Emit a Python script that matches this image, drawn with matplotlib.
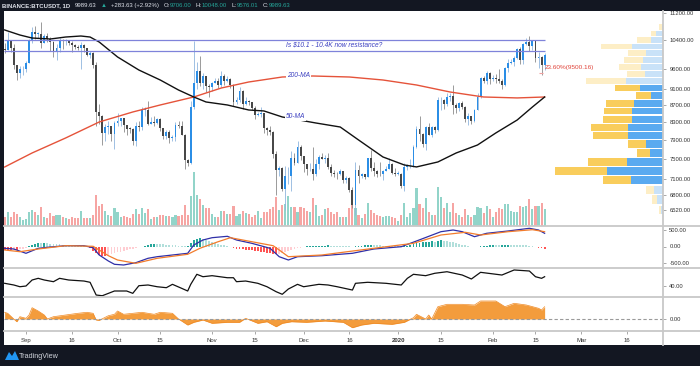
import matplotlib
matplotlib.use('Agg')
import matplotlib.pyplot as plt
from matplotlib.lines import Line2D
from matplotlib.patches import Rectangle, Polygon
from matplotlib.ticker import FixedLocator, FixedFormatter, NullLocator
from matplotlib.offsetbox import TextArea, HPacker, AnchoredOffsetbox

plt.rcParams['font.family'] = ['Liberation Sans', 'DejaVu Sans']

# ---------------- data (day index 0 = 2019-08-25) ----------------
first_open = 10140
closes = [10130,10360,10185,9720,9490,9590,9600,9770,10390,10620,
          10580,10580,10320,10500,10440,10330,10100,10160,10410,10360,
          10360,10310,10260,10190,10160,10270,10170,9980,10030,9700,
          8530,8430,8060,8190,8200,8040,8290,8330,8390,8230,
          8150,8140,7870,8210,8180,8590,8590,8260,8310,8280,
          8360,8160,7990,8070,7950,7960,8230,8220,8020,7470,
          7420,8660,9250,9550,9230,9430,9170,9150,9250,9300,
          9200,9410,9300,9350,9190,8760,8810,9040,8720,8800,
          8760,8630,8460,8490,8500,8170,8120,8080,7610,7270,
          7320,6910,7150,7160,7520,7420,7760,7560,7400,7290,
          7300,7200,7390,7530,7500,7520,7340,7220,7200,7190,
          7250,7070,7110,6880,6610,7280,7150,7190,7140,7510,
          7320,7250,7200,7190,7250,7300,7390,7220,7200,7200,
          6960,7340,7350,7350,7760,8150,8040,7820,8190,8020,
          8180,8110,8810,8820,8720,8900,8910,8700,8630,8740,
          8660,8380,8430,8330,8590,8900,9380,9290,9500,9350,
          9380,9340,9290,9180,9620,9760,9800,9900,10150,9850,
          10280,10350,10240,10360,9900,9930,9710,9990]
highs = [10320,10625,10380,10285,9720,9690,9680,9820,10440,10780,
         10800,10630,10920,10560,10600,10490,10380,10290,10450,10440,
         10420,10390,10360,10280,10270,10350,10280,10180,10080,10060,
         9800,8730,8460,8260,8320,8220,8320,8500,8400,8400,
         8240,8180,8170,8300,8330,8660,8650,8790,8420,8450,
         8400,8400,8170,8120,8110,8000,8300,8330,8330,8040,
         7500,8800,10370,9800,9950,9500,9430,9220,9270,9380,
         9370,9550,9470,9420,9370,9220,8880,9130,9070,8880,
         8820,8780,8680,8530,8640,8520,8180,8200,8100,7670,
         7350,7330,7350,7330,7660,7620,7870,7800,7570,7400,
         7420,7750,7490,7590,7620,7580,7620,7390,7270,7240,
         7300,7260,7160,7130,6940,7440,7370,7220,7190,7520,
         7690,7440,7270,7430,7270,7360,7520,7420,7320,7250,
         7210,7410,7400,7500,7800,8210,8450,8050,8200,8280,
         8200,8200,8880,8900,8850,9000,9000,9190,8740,8770,
         8790,8670,8510,8430,8600,8980,9400,9430,9550,9520,
         9440,9470,9600,9350,9650,9860,9880,9950,10160,10190,
         10320,10450,10500,10390,10380,10050,9960,10048]
lows = [10030,10130,10050,9600,9320,9360,9440,9520,9760,10300,
        10430,10450,10160,10300,10350,10100,9930,9850,10050,10150,
        10270,10270,10070,10150,10120,9600,10060,9960,9900,9630,
        8220,8250,7800,7870,8030,7880,7710,8220,8200,8080,
        8000,8050,7800,7770,8100,8120,8440,8240,8260,8200,
        8250,8100,7930,7920,7830,7870,7880,8160,8020,7300,
        7350,7400,8600,9100,9170,9100,9020,8900,9050,9230,
        9120,9150,9200,9260,9120,8680,8730,8780,8600,8700,
        8710,8580,8380,8440,8410,8050,8000,8020,7520,6790,
        7150,6870,6520,7010,6860,7370,7410,7480,7230,7170,
        7260,7080,7160,7300,7490,7420,7290,7160,7130,7090,
        7170,7030,7020,6850,6560,6430,7030,7110,7100,7130,
        7260,7160,7130,7160,7070,7250,7290,7200,7150,7170,
        6920,6870,7270,7310,7340,7730,7870,7750,7680,8000,
        7970,8050,8100,8580,8600,8670,8800,8480,8520,8560,
        8610,8300,8240,8260,8300,8570,8870,9250,9220,9220,
        9300,9230,9230,9100,9160,9530,9730,9670,9880,9740,
        9730,10250,10080,10120,9800,9630,9450,9576]
volumes = [8.7,14,9.3,14,12,8.7,6.3,6.7,14.3,15.7,
           14.3,11.3,19.3,9.3,8.3,12.7,10,11,11,9.3,
           7.7,6.7,9.3,7.7,8.3,15,8.3,7.7,8.3,10.7,
           31,20,22.3,14.7,11,10,18.3,14.3,8.7,10,
           8.7,7.7,11.7,17.3,11.7,18,12.7,17,7.3,9,
           9.3,10.7,11,10.3,10,8.7,11,10.3,11,21,
           11,30,53.7,31,26.7,21,18.3,18.3,11.7,9.3,
           9.3,15,15,12.3,12.3,20.3,10.3,11.7,15,13.3,
           12.3,8.7,11,15,7.7,14.3,14.3,16.7,19.3,
           29.3,16,21,21.7,30.3,19.3,19.3,13.7,19.3,18.3,
           15.3,14.3,27.7,21,10.3,11,16.7,17.7,13.7,11.7,
           14.3,9.3,9.3,9.3,17.7,21.7,18.3,11,7.7,11.7,
           22.7,16,12.7,11,10.3,9.3,10.3,10.3,9.3,7.7,
           5,11,22.7,9.3,12.7,17.7,37.7,21.7,17.7,27.7,
           14.3,11,11,39.3,29.3,17.7,23.3,14.3,23.3,12.7,
           11,9.3,16.7,11,9.3,11,18.7,17.7,13.3,20.3,
           16.7,9.3,13.7,17.7,17,21.7,21.7,15,14.3,14.3,
           20.3,19.3,20.3,26.7,16.7,19.7,20.3,22.7,17]

ma50_days = [0,5,9,15,20,25,28,31,37,44,51,57,62,66,73,80,85,91,102,110,116,124,131,135,142,148,155,161,168,173,177]
ma50_vals = [10690,10543,10456,10428,10485,10514,10485,10342,9926,9576,9317,9064,8892,8771,8699,8580,8557,8417,8279,8188,7902,7541,7377,7337,7438,7624,7793,8055,8347,8651,8892]
ma200_days = [0,9,20,31,42,51,62,71,80,91,101,113,124,135,146,157,168,177]
ma200_vals = [7336,7624,7945,8302,8533,8699,8892,9114,9266,9394,9420,9394,9317,9190,9015,8892,8869,8892]

macd_days = [0,3,7,11,15,20,26,29,31,34,36,39,43,47,50,55,60,62,65,68,73,76,81,87,90,93,96,104,114,121,130,135,143,147,150,154,158,165,172,175,177]
macd_vals = [-54,-75,-204,-54,-15,24,24,-36,-255,-435,-534,-555,-486,-354,-306,-255,-204,45,195,264,306,195,96,-54,-306,-405,-306,-276,-204,-75,-6,165,444,495,444,294,396,465,546,495,396]
signal_days = [0,5,11,20,29,34,37,43,50,60,64,70,74,81,88,90,93,104,121,134,143,151,156,165,173,177]
signal_vals = [-105,-156,-75,24,6,-276,-405,-504,-354,-234,-54,144,264,144,24,-105,-306,-255,-54,96,345,426,345,444,504,444]
macd_hist = [-90,-99,-105,-99,-102,-84,-60,-36,15,60,
             90,105,99,114,105,90,84,75,69,60,
             48,36,30,21,15,12,9,-9,-45,-120,
             -180,-240,-270,-285,-255,-225,-195,-165,-150,-129,
             -105,-84,-66,-45,-24,-6,24,54,75,84,
             78,72,66,60,51,42,36,30,18,6,
             30,120,195,240,249,240,210,180,150,120,
             90,60,36,15,-15,-45,-60,-69,-84,-90,
             -99,-114,-129,-144,-159,-174,-189,-204,-210,-225,
             -210,-195,-165,-135,-105,-75,-54,-30,-12,9,
             15,24,30,30,30,30,33,30,24,18,
             12,9,6,3,-6,9,24,30,36,45,
             48,45,39,33,27,24,24,21,15,12,
             6,18,30,45,66,96,120,129,144,150,
             156,150,174,189,180,165,150,126,105,84,
             60,39,18,-9,-18,-12,6,18,30,45,
             51,48,42,48,54,57,54,48,42,39,
             36,33,24,9,-18,-36,-54,-60]

rsi_days = [0,3,5,7,9,11,13,16,18,21,26,28,30,32,36,40,42,44,47,50,53,55,58,60,61,63,65,68,73,75,76,79,83,86,89,91,93,96,98,103,106,109,114,115,119,125,130,132,134,138,141,145,150,153,156,163,167,172,174,176,177]
rsi_vals = [44.5,41.7,38.8,40,50,52.8,50,47.2,52.8,50,48.3,46.2,25,23.8,31.7,31.7,27.8,40.5,41.7,38.8,37.2,42.8,36.2,31.7,42.8,59.5,55.5,57.2,53.8,53.8,47.2,48.3,44.5,38.8,30.5,26.2,35,42.8,38.8,42.8,41.7,38.8,33.3,44.5,46.2,44.5,41.7,52.8,59.5,57.2,61.2,63.8,58.3,51.7,62.8,58.3,66.7,65,55.5,52.8,55.5]

osc_days = [0,1,3,4,5,7,8,9,11,13,14,16,20,24,27,29,30,31,34,36,37,39,42,45,49,51,55,57,60,62,65,68,73,77,79,83,86,89,91,94,99,105,111,114,117,121,127,131,134,135,138,139,140,142,145,150,154,156,161,164,167,171,175,176,177]
osc_vals = [0.067,0.057,0.0,-0.027,0.023,0.007,0.04,0.113,0.08,0.04,0.0,0.023,0.04,0.057,0.067,0.057,-0.01,-0.013,0.033,0.047,0.08,0.047,0.057,0.067,0.047,0.067,0.057,0.0,-0.06,-0.033,-0.01,-0.043,-0.033,-0.033,0.007,-0.043,-0.027,-0.077,-0.043,-0.027,-0.033,-0.02,-0.033,-0.087,-0.06,-0.043,-0.053,-0.033,0.013,0.047,0.0,0.04,0.0,0.123,0.147,0.147,0.14,0.18,0.18,0.123,0.157,0.14,0.107,0.09,0.123]

# volume profile rows (price bottoms, up/down volume)
vp_bottoms = [6440,6625,6810,6995,7180,7365,7550,7735,7920,8105,8290,8475,8660,8845,9030,9215,9400,9585,9770,9955,10140,10325,10510,10695]
vp_up = [2,6,9,32,56,36,13,17,35,35,31,31,29,12,23,37,18,22,20,17,31,12,7,1]
vp_down = [2,5,8,28,52,39,13,18,35,37,29,28,28,15,25,40,18,22,19,18,31,14,5,3]
vp_in_value_area = [False,False,False,True,True,True,True,True,True,True,True,True,True,True,True,False,False,False,False,False,False,False,False,False]
vp_step = 185

price_ticks = [11200,10400,9600,9100,8700,8300,7900,7500,7100,6800,6520]
resistance_levels = [10100, 10400]
fib_level = 9500.16
time_tick_days = [7,22,37,51,68,82,98,113,129,143,160,174,189,204]
time_tick_labels = ['Sep','16','Oct','15','Nov','15','Dec','16','2020','15','Feb','15','Mar','16']

header_groups = [[('BINANCE:BTCUSDT, 1D', '#e0e3eb', 'bold')],
                 [('9989.63', '#e0e3eb', 'normal')],
                 [('\u25b2', '#26a69a', 'normal')],
                 [('+283.63 (+2.92%)', '#e0e3eb', 'normal')],
                 [('O:', '#e0e3eb', 'normal'), ('9706.00', '#26a69a', 'normal')],
                 [('H:', '#e0e3eb', 'normal'), ('10048.00', '#26a69a', 'normal')],
                 [('L:', '#e0e3eb', 'normal'), ('9576.01', '#26a69a', 'normal')],
                 [('C:', '#e0e3eb', 'normal'), ('9989.63', '#26a69a', 'normal')]]

# ---------------- figure ----------------
W, H = 700, 366
fig = plt.figure(figsize=(7, 3.66), dpi=100)
fig.patch.set_facecolor('#131722')

def fx(px):
    return px / W

def fy(py):
    return 1 - py / H

fig.add_artist(Rectangle((fx(4), fy(345)), fx(700) - fx(4), fy(11) - fy(345),
                         transform=fig.transFigure, facecolor='white',
                         edgecolor='none', zorder=-10))

XL, XR = 4, 663
XMIN, XMAX = -0.21, 215.8

def add_pane(top, bottom):
    a = fig.add_axes([fx(XL), fy(bottom), fx(XR) - fx(XL), fy(top) - fy(bottom)])
    a.patch.set_visible(False)
    for s in a.spines.values():
        s.set_visible(False)
    a.set_xlim(XMIN, XMAX)
    return a

ax = add_pane(11, 226)
ax_macd = add_pane(226, 268)
ax_rsi = add_pane(268, 297)
ax_osc = add_pane(297, 331)

n = len(closes)
days = list(range(n))
opens = [first_open] + closes[:-1]

# volume (twin y)
ax_v = ax.twinx()
ax_v.patch.set_visible(False)
for s in ax_v.spines.values():
    s.set_visible(False)
ax_v.set_ylim(0, 215)
ax_v.set_yticks([])
vcol = ['#92d4c9' if c >= o else '#f6a5a3' for o, c in zip(opens, closes)]
ax_v.bar(days, volumes, width=0.7, color=vcol, linewidth=0)
ax_v.set_xlim(XMIN, XMAX)

# price
ax.set_yscale('log')
ax.set_ylim(6238, 11262)
ax.set_zorder(3)
ax_v.set_zorder(1)

# volume profile
ax_p = ax.twiny()
ax_p.set_zorder(2)
ax_p.patch.set_visible(False)
for s in ax_p.spines.values():
    s.set_visible(False)
ax_p.set_xlim(659, 0)
ax_p.set_xticks([])
for b, u, d, va in zip(vp_bottoms, vp_up, vp_down, vp_in_value_area):
    cu = '#5aaaf0' if va else '#c9e2f8'
    cd = '#f9cd5c' if va else '#fdeec6'
    hgt = vp_step * 0.86
    ax_p.barh(b, u, height=hgt, left=0, align='edge', color=cu, linewidth=0)
    ax_p.barh(b, d, height=hgt, left=u, align='edge', color=cd, linewidth=0)

# candles
for i in days:
    o, c, h, l = opens[i], closes[i], highs[i], lows[i]
    up = c >= o
    ax.vlines(i, l, h, color='#8fb6de' if up else '#8a8a8a', linewidth=0.6, zorder=3)
    lo, hi = min(o, c), max(o, c)
    if hi - lo < 15:
        hi = lo + 15
    ax.bar(i, hi - lo, bottom=lo, width=0.62, color='#2b8ee6' if up else '#484848',
           linewidth=0, zorder=4)

ax.plot(ma200_days, ma200_vals, color='#e5533a', linewidth=1.0, zorder=5)
ax.plot(ma50_days, ma50_vals, color='#111111', linewidth=1.0, zorder=5)
for lvl in resistance_levels:
    ax.hlines(lvl, XMIN, 177, color='#7f83da', linewidth=0.9, zorder=5)
ax.hlines(fib_level, 175, 176.6, color='#f0a0a0', linewidth=0.8, zorder=5)

txt_kw = dict(fontsize=4.8, style='italic', color='#3b3fc0', zorder=6)
lbl_box = dict(facecolor='white', edgecolor='none', pad=0.6)
ax.text(92.2, 10250, 'Is $10.1 - 10.4K now resistance?', va='center', ha='left', **txt_kw)
ax.text(92.5, 9440, '200-MA', va='center', ha='left', bbox=lbl_box, **txt_kw)
ax.text(92.2, 8420, '50-MA', va='center', ha='left', bbox=lbl_box, **txt_kw)
ax.text(176.9, 9634, '23.60%(9500.16)', va='center', ha='left', fontsize=4.6,
        color='#e0443a', zorder=6)

ax.yaxis.tick_right()
ax.yaxis.set_major_locator(FixedLocator(price_ticks))
ax.yaxis.set_major_formatter(FixedFormatter(['%.2f' % p for p in price_ticks]))
ax.yaxis.set_minor_locator(NullLocator())
ax.set_xticks([])
ax.set_xlim(XMIN, XMAX)

tick_kw = dict(length=2.5, width=0.6, color='#9a9a9a', labelsize=4.2,
               labelcolor='#333333', pad=2)
ax.tick_params(axis='y', **tick_kw)

# MACD
hcols = []
prev = 0
for v in macd_hist:
    if v >= 0:
        hcols.append('#26a69a' if v >= prev else '#b2dfdb')
    else:
        hcols.append('#ff5252' if v < prev else '#ffcdd2')
    prev = v
ax_macd.bar(days, macd_hist, width=0.6, color=hcols, linewidth=0)
ax_macd.plot(macd_days, macd_vals, color='#2f2fa8', linewidth=0.9)
ax_macd.plot(signal_days, signal_vals, color='#f27c2c', linewidth=0.9)
ax_macd.set_ylim(-645, 615)
ax_macd.yaxis.tick_right()
ax_macd.set_yticks([500, 0, -500])
ax_macd.set_yticklabels(['500.00', '0.00', '-500.00'])
ax_macd.set_xticks([])
ax_macd.tick_params(axis='y', **tick_kw)

# RSI-style line
ax_rsi.plot(rsi_days, rsi_vals, color='#111111', linewidth=0.9)
ax_rsi.set_ylim(21.7, 70)
ax_rsi.yaxis.tick_right()
ax_rsi.set_yticks([40])
ax_rsi.set_yticklabels(['40.00'])
ax_rsi.set_xticks([])
ax_rsi.tick_params(axis='y', **tick_kw)

# oscillator area
ax_osc.fill_between(osc_days, 0, osc_vals, color='#f39c3c', linewidth=0)
ax_osc.plot(osc_days, osc_vals, color='#f08a24', linewidth=0.5)
ax_osc.axhline(0, color='#9a9a9a', linewidth=0.8, linestyle=(0, (3, 2)))
ax_osc.set_ylim(-0.12, 0.22)
ax_osc.yaxis.tick_right()
ax_osc.set_yticks([0])
ax_osc.set_yticklabels(['0.00'])
ax_osc.tick_params(axis='y', **tick_kw)
ax_osc.set_xticks(time_tick_days)
ax_osc.set_xticklabels(time_tick_labels)
ax_osc.tick_params(axis='x', length=2, width=0.6, color='#9a9a9a', labelsize=4.3,
                   labelcolor='#333333', pad=3)
for t in ax_osc.get_xticklabels():
    if t.get_text() == '2020':
        t.set_fontweight('bold')
ax_osc.set_xlim(XMIN, XMAX)

# separators and axis line
for yy in [226, 268, 297, 331]:
    fig.add_artist(Line2D([fx(4), fx(700)], [fy(yy), fy(yy)], transform=fig.transFigure,
                          color='#c8c8c8', linewidth=1.3, zorder=8))
fig.add_artist(Line2D([fx(663), fx(663)], [fy(11), fy(345)], transform=fig.transFigure,
                      color='#c8c8c8', linewidth=1.3, zorder=8))

# header (packed sequentially so the pieces never overlap)
groups = []
for grp in header_groups:
    parts = [TextArea(s, textprops=dict(color=col, fontsize=4.3, fontweight=fw,
                                        family=['Liberation Sans', 'DejaVu Sans']))
             for s, col, fw in grp]
    groups.append(HPacker(children=parts, align='center', pad=0, sep=0))
header = HPacker(children=groups, align='center', pad=0, sep=3.2)
fig.add_artist(AnchoredOffsetbox(loc='center left', child=header, pad=0, borderpad=0,
                                 frameon=False, bbox_to_anchor=(fx(2), fy(5.5)),
                                 bbox_transform=fig.transFigure))

# TradingView logo
fig.add_artist(Polygon([[fx(5), fy(360)], [fx(9), fy(352)], [fx(12), fy(356)],
                        [fx(15), fy(351)], [fx(19), fy(360)]],
                       closed=True, transform=fig.transFigure, facecolor='#2196f3',
                       edgecolor='none', zorder=9))
fig.text(fx(19), fy(356), 'TradingView', color='#d1d4dc', fontsize=5.2,
         ha='left', va='center')

fig.savefig('out.png', dpi=100, facecolor=fig.get_facecolor())
